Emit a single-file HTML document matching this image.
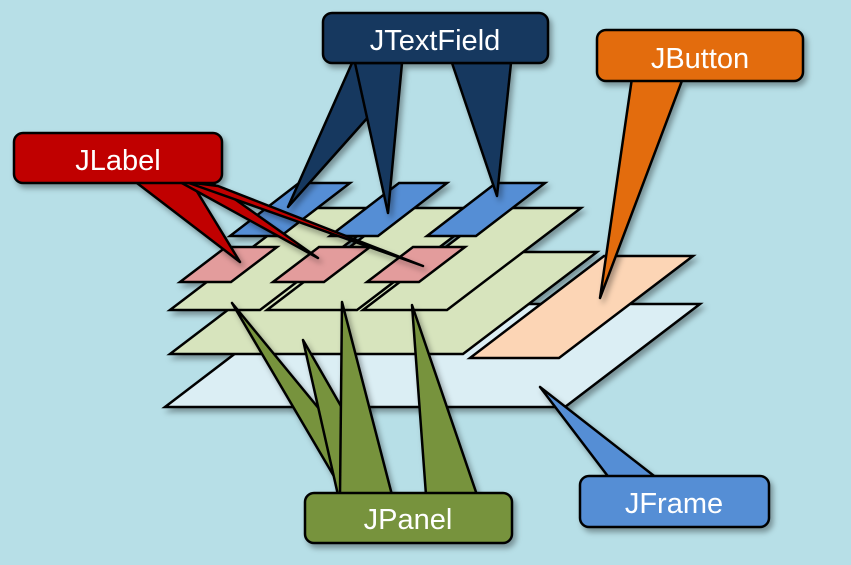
<!DOCTYPE html>
<html><head><meta charset="utf-8"><style>
html,body{margin:0;padding:0;background:#b7dfe7;}
svg{display:block;}
text{font-family:"Liberation Sans",sans-serif;fill:#fff;font-size:29px;text-anchor:middle;}
</style></head><body>
<svg width="851" height="565" viewBox="0 0 851 565" xmlns="http://www.w3.org/2000/svg">
<defs>
<filter id="sh" x="-20%" y="-20%" width="140%" height="150%">
<feDropShadow dx="3" dy="4" stdDeviation="3" flood-color="#000" flood-opacity="0.35"/>
</filter>
</defs>
<rect width="851" height="565" fill="#b7dfe7"/>
<g stroke="#000" stroke-width="2.5" stroke-linejoin="miter" filter="url(#sh)">
<polygon points="300,304 700,304 565,407 165,407" fill="#dbeef4"/>
<polygon points="604,256 693,256 559,358 470,358" fill="#fcd5b5"/>
<polygon points="304,252 597,252 463,354 170,354" fill="#d7e4bd"/>
<polygon points="304,208 394,208 260,310 170,310" fill="#d7e4bd"/>
<polygon points="401,208 491,208 357,310 267,310" fill="#d7e4bd"/>
<polygon points="497,208 581,208 447,310 363,310" fill="#d7e4bd"/>
<polygon points="299,183 350,183 281,236 230,236" fill="#558ed5"/>
<polygon points="399,183 447,183 378,236 330,236" fill="#558ed5"/>
<polygon points="496,183 545,183 476,236 427,236" fill="#558ed5"/>
<polygon points="226,247 277,247 231,282 180,282" fill="#e39c9c"/>
<polygon points="319,247 370,247 324,282 273,282" fill="#e39c9c"/>
<polygon points="413,247 465,247 419,282 367,282" fill="#e39c9c"/>
</g>
<g stroke="#000" stroke-width="2.5" stroke-linejoin="round" filter="url(#sh)">
<polygon points="352,63 370,63 370,115 288,207" fill="#17375e"/>
<polygon points="355,63 402,63 388,213" fill="#17375e"/>
<polygon points="452,63 511,63 497,196" fill="#17375e"/>
<rect x="323" y="13" width="225" height="50" rx="9" fill="#17375e"/>
<polygon points="632,78 683,78 600,298" fill="#e36c09"/>
<rect x="597" y="30" width="206" height="51" rx="9" fill="#e36c09"/>
<polygon points="133,180 190,180 240,262" fill="#c00000"/>
<polygon points="180,182 212,183 318,258" fill="#c00000"/>
<polygon points="186,182 218,186 423,266" fill="#c00000"/>
<rect x="14" y="133" width="208" height="50" rx="9" fill="#c00000"/>
<polygon points="232,303 345,495 390,495" fill="#77933c"/>
<polygon points="303,340 338,495 392,495" fill="#77933c"/>
<polygon points="342,302 340,495 392,495" fill="#77933c"/>
<polygon points="412,305 426,495 477,495" fill="#77933c"/>
<rect x="305" y="493" width="207" height="50" rx="9" fill="#77933c"/>
<polygon points="610,479 658,479 540,387" fill="#558ed5"/>
<rect x="580" y="476" width="189" height="51" rx="9" fill="#558ed5"/>
</g>
<text x="435" y="50">JTextField</text>
<text x="700" y="68">JButton</text>
<text x="118" y="170">JLabel</text>
<text x="408" y="529">JPanel</text>
<text x="674" y="513">JFrame</text>
</svg>
</body></html>
